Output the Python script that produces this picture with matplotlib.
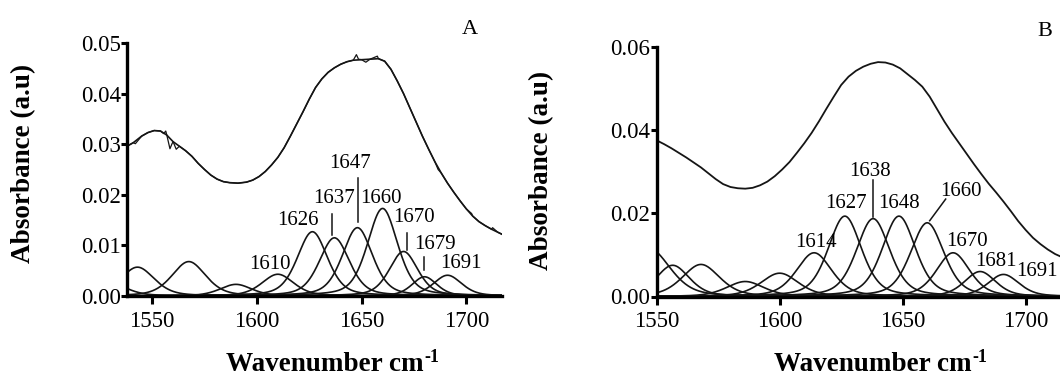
import numpy as np
import matplotlib
matplotlib.use("Agg")
import matplotlib.pyplot as plt

plt.rcParams['font.family'] = ['Liberation Serif', 'DejaVu Serif']

# ---------------- Panel A data ----------------
a_env_x = [1538, 1541, 1545, 1548, 1551, 1554, 1557, 1560, 1563, 1566, 1569, 1572,
           1575, 1578, 1581, 1584, 1587, 1591, 1595, 1598, 1601, 1604, 1607, 1610,
           1613, 1616, 1619, 1622, 1625, 1628, 1631, 1634, 1637, 1640, 1643, 1646,
           1650, 1654, 1658, 1661, 1664, 1667, 1670, 1673, 1676, 1679, 1682, 1685,
           1688, 1691, 1694, 1697, 1700, 1703, 1706, 1709, 1712, 1715, 1717]
a_env_y = [0.0296, 0.0303, 0.0316, 0.0323, 0.0327, 0.0326, 0.0318, 0.0305, 0.0296,
           0.0287, 0.0276, 0.0262, 0.0250, 0.0239, 0.0231, 0.0226, 0.0224, 0.0223,
           0.0225, 0.0229, 0.0236, 0.0246, 0.0259, 0.0274, 0.0293, 0.0316, 0.0340,
           0.0364, 0.0389, 0.0412, 0.0429, 0.0442, 0.0451, 0.0458, 0.0463, 0.0466,
           0.0467, 0.0468, 0.0469, 0.0464, 0.0448, 0.0425, 0.0400, 0.0372, 0.0344,
           0.0316, 0.0290, 0.0265, 0.0243, 0.0223, 0.0205, 0.0188, 0.0172, 0.0158,
           0.0147, 0.0139, 0.0132, 0.0126, 0.0122]
# small glitches of the measured spectrum (on top of the fitted envelope)
a_glitch_x = [1542, 1555.5, 1556.5, 1558.5, 1559.5, 1561.5, 1647.5, 1648.5, 1652,
              1657.5, 1686.5, 1702.5, 1712.5]
a_glitch_y = [0.0301, 0.0321, 0.0326, 0.0291, 0.0301, 0.0290, 0.0477, 0.0468,
              0.0462, 0.0474, 0.0250, 0.0163, 0.0135]
a_centers = [1528, 1543, 1567.5, 1590, 1610, 1626.5, 1637, 1648, 1660, 1670, 1680, 1691]
a_heights = [0.0030, 0.0057, 0.0068, 0.0023, 0.0043, 0.0127, 0.0115, 0.0135, 0.0173,
             0.0088, 0.0038, 0.0041]
a_hwhm = [10, 9.5, 9.5, 9, 9, 8.5, 8.5, 8.5, 8.5, 8, 7, 8]
a_labels = ['1610', '1626', '1637', '1647', '1660', '1670', '1679', '1691']

# ---------------- Panel B data ----------------
b_env_x = [1550, 1553, 1556, 1559, 1562, 1565, 1568, 1571, 1574, 1577, 1580, 1583,
           1586, 1589, 1592, 1595, 1598, 1601, 1604, 1607, 1610, 1613, 1616, 1619,
           1622, 1625, 1628, 1631, 1634, 1637, 1640, 1643, 1646, 1649, 1652, 1655,
           1658, 1661, 1664, 1667, 1670, 1673, 1676, 1679, 1682, 1685, 1688, 1691,
           1694, 1697, 1700, 1703, 1706, 1709, 1712, 1715]
b_env_y = [0.0375, 0.0366, 0.0356, 0.0345, 0.0334, 0.0322, 0.0310, 0.0296, 0.0282,
           0.0270, 0.0263, 0.0260, 0.0259, 0.0261, 0.0267, 0.0276, 0.0289, 0.0305,
           0.0323, 0.0345, 0.0368, 0.0393, 0.0421, 0.0451, 0.0480, 0.0508, 0.0528,
           0.0542, 0.0552, 0.0559, 0.0563, 0.0562, 0.0557, 0.0548, 0.0534, 0.0520,
           0.0504, 0.0480, 0.0450, 0.0420, 0.0393, 0.0368, 0.0343, 0.0318, 0.0294,
           0.0271, 0.0250, 0.0228, 0.0205, 0.0181, 0.0160, 0.0141, 0.0126, 0.0113,
           0.0102, 0.0094]
b_centers = [1547, 1556.5, 1568, 1586, 1600, 1614, 1626.5, 1638, 1648.5, 1660,
             1670.5, 1681.5, 1691]
b_heights = [0.0115, 0.0075, 0.0077, 0.0036, 0.0056, 0.0105, 0.0193, 0.0187, 0.0193,
             0.0177, 0.0105, 0.0060, 0.0053]
b_hwhm = [10, 8, 9, 9, 9, 8.5, 8, 8, 8, 8, 8, 7.5, 7.5]
b_labels = ['1614', '1627', '1638', '1648', '1660', '1670', '1681', '1691']

# label placement (data coords) and leader lines
a_lab_pos = [(1606.3, 0.0063), (1619.5, 0.0150), (1637.0, 0.0192), (1644.5, 0.0261),
             (1659.0, 0.0192), (1675.0, 0.0155), (1685.0, 0.0101), (1697.5, 0.0065)]
a_leaders = [((1636.0, 0.0163), (1636.0, 0.0121)),
             ((1648.2, 0.0233), (1648.2, 0.0147)),
             ((1671.8, 0.0124), (1671.8, 0.0091)),
             ((1680.0, 0.0078), (1680.0, 0.0051))]
b_lab_pos = [(1614.6, 0.0129), (1627.0, 0.0224), (1636.7, 0.0300), (1648.6, 0.0224),
             (1673.9, 0.0252), (1676.3, 0.0132), (1687.8, 0.0084), (1704.6, 0.0060)]
b_leaders = [((1637.8, 0.0280), (1637.8, 0.0192)),
             ((1667.5, 0.0234), (1661.0, 0.0182))]


def band(x, c, h, w, eta=0.4):
    u = (x - c) / w
    return h * (eta / (1 + u ** 2) + (1 - eta) * np.exp(-np.log(2) * u ** 2))


W, H = 1060, 381
fig = plt.figure(figsize=(W / 100, H / 100), dpi=100)


def rect(l, r, t, b):
    return [l / W, 1 - b / H, (r - l) / W, (b - t) / H]


axA = fig.add_axes(rect(127, 502, 43, 296))
axB = fig.add_axes(rect(656.7, 1062, 46.7, 296.5))

lc = '#151515'
LW = 1.2


def style(ax, xlim, ylim, yticks, yfmt):
    ax.set_xlim(*xlim)
    ax.set_ylim(*ylim)
    for s in ['top', 'right']:
        ax.spines[s].set_visible(False)
    for s in ['left', 'bottom']:
        ax.spines[s].set_linewidth(2.4)
        ax.spines[s].set_color('black')
    ax.set_xticks([1550, 1600, 1650, 1700])
    ax.set_yticks(yticks)
    ax.set_yticklabels([yfmt % v for v in yticks])
    ax.tick_params(direction='out', width=2.2, labelsize=16.5, colors='black')
    ax.tick_params(axis='y', length=4, pad=0.5)
    ax.tick_params(axis='x', length=5.5, pad=5)
    ax.patch.set_alpha(0)


# Panel A
xa = np.linspace(1538, 1717, 600)
for c, h, w in zip(a_centers, a_heights, a_hwhm):
    axA.plot(xa, band(xa, c, h, w), color=lc, lw=LW)
axA.plot(a_env_x, a_env_y, color=lc, lw=LW)
order = np.argsort(np.r_[a_env_x, a_glitch_x], kind='stable')
mx = np.r_[a_env_x, a_glitch_x][order]
my = np.r_[a_env_y, a_glitch_y][order]
axA.plot(mx, my, color=lc, lw=0.9)
style(axA, (1538, 1717), (0, 0.05), [0, 0.01, 0.02, 0.03, 0.04, 0.05], '%.2f')
for lab, (x, y) in zip(a_labels, a_lab_pos):
    axA.text(x, y, lab, ha='center', va='center', fontsize=15)
for (p0, p1) in a_leaders:
    axA.plot([p0[0], p1[0]], [p0[1], p1[1]], color=lc, lw=1.1)

# Panel B
xb = np.linspace(1550, 1716, 600)
for c, h, w in zip(b_centers, b_heights, b_hwhm):
    axB.plot(xb, band(xb, c, h, w), color=lc, lw=LW)
axB.plot(b_env_x, b_env_y, color=lc, lw=LW + 0.1)
style(axB, (1550, 1714.8), (0, 0.06), [0, 0.02, 0.04, 0.06], '%.2f')
for lab, (x, y) in zip(b_labels, b_lab_pos):
    axB.text(x, y, lab, ha='center', va='center', fontsize=15, clip_on=False)
for (p0, p1) in b_leaders:
    axB.plot([p0[0], p1[0]], [p0[1], p1[1]], color=lc, lw=1.1)

# axis titles and panel letters
for xc, yc in [(24, 163), (542, 170)]:
    fig.text(xc / W, 1 - yc / H, 'Absorbance (a.u)', rotation=90, ha='center',
             va='center', fontsize=19.5, fontweight='bold')

fig.canvas.draw()
renderer = fig.canvas.get_renderer()
for xc in [332, 880]:
    main = fig.text(0, 0, 'Wavenumber cm', fontsize=19.5, fontweight='bold',
                    va='baseline', ha='left')
    sup = fig.text(0, 0, '-1', fontsize=13, fontweight='bold', va='baseline',
                   ha='left')
    w1 = main.get_window_extent(renderer).width
    w2 = sup.get_window_extent(renderer).width
    x0 = xc - (w1 + w2) / 2
    base = H - 371
    main.set_position((x0 / W, base / H))
    sup.set_position(((x0 + w1 + 1) / W, (base + 9) / H))

fig.text(470 / W, 1 - 29 / H, 'A', ha='center', va='center', fontsize=16)
fig.text(1045 / W, 1 - 31 / H, 'B', ha='center', va='center', fontsize=16)

fig.savefig('out.png', dpi=100)
